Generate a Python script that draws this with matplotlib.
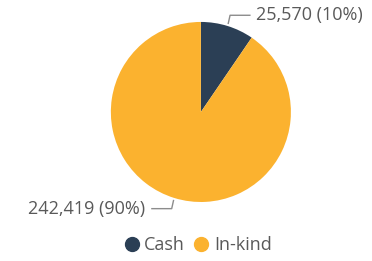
import numpy as np
import matplotlib.pyplot as plt

plt.rcParams['font.family'] = ['Open Sans', 'DejaVu Sans']

categorias = ["Cash", "In-kind"]
valores = [25570, 242419]
etiquetas = ["25,570 (10%)", "242,419 (90%)"]
colores = ["#2b3f55", "#fbb22f"]
gris = "#595959"

fig = plt.figure(figsize=(3.72, 2.61), dpi=100)
ax = fig.add_axes([0.298, 0.226, 0.484, 0.690])
wedges, _ = ax.pie(valores, colors=colores, startangle=90, counterclock=False,
                   radius=1.0, wedgeprops=dict(linewidth=0))
ax.set_xlim(-1, 1)
ax.set_ylim(-1, 1)
ax.set_aspect("equal")
ax.axis("off")

# lineas guia
for w, txt in zip(wedges, etiquetas):
    ang = np.deg2rad((w.theta1 + w.theta2) / 2)
    x0, y0 = np.cos(ang), np.sin(ang)
    x1, y1 = x0 * 1.03, y0 * 1.03
    lado = 1 if x0 > 0 else -1
    x2, y2 = x0 * 1.03 + lado * 0.02, y0 * 1.03 + np.sign(y0) * 0.09
    x3 = x2 + lado * 0.22
    ax.plot([x1, x2, x3], [y1, y2, y2], color="#8c8c8c", lw=1, clip_on=False)
    ax.text(x3 + lado * 0.07, y2, txt, ha="left" if lado > 0 else "right",
            va="center", fontsize=13, color=gris, clip_on=False)

# leyenda
handles = [plt.Line2D([], [], marker="o", linestyle="", markersize=10,
                      markerfacecolor=c, markeredgecolor=c) for c in colores]
fig.legend(handles, categorias, loc="center", bbox_to_anchor=(0.53, 0.06),
           ncol=2, frameon=False, fontsize=13, handletextpad=0.2,
           columnspacing=0.4, labelcolor=gris, handlelength=1.0)

fig.savefig("out.png", dpi=100)
